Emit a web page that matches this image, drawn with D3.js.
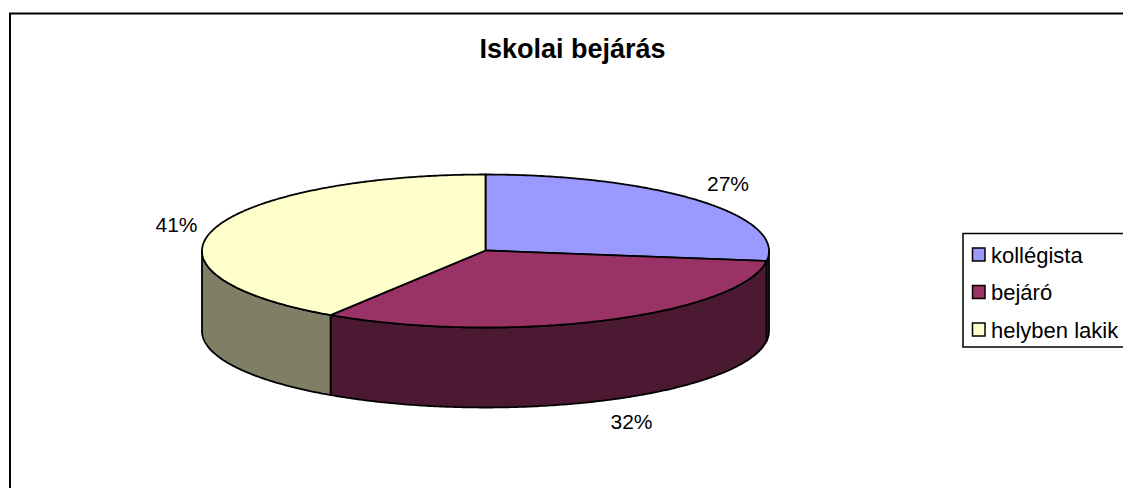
<!DOCTYPE html>
<html><head><meta charset="utf-8">
<script src="https://cdn.jsdelivr.net/npm/d3@7"></script>
<style>html,body{margin:0;padding:0;background:#fff;overflow:hidden}svg{display:block}text{font-family:"Liberation Sans",Arial,sans-serif;fill:#000}</style>
</head><body><svg id="c" width="1123" height="488"></svg>
<script>
const categories = ["kollégista","bejáró","helyben lakik"];
const values = [27.1,32.1,40.8];
const labels = ["27%","32%","41%"];
const topColors = ["#9999FF","#993366","#FFFFCC"];
const sideColors = ["#4C4C7F","#4C1933","#7F7F66"];
const title = "Iskolai bejárás";

const W=1123,H=488, cx=485.5, cy=251, hubY=250.5, rx=283.5, ry=76.5, depth=80;
const svg=d3.select("#c");
svg.append("rect").attr("x",10).attr("y",13.5).attr("width",W+20).attr("height",H+20)
  .attr("fill","#fff").attr("stroke","#000").attr("stroke-width",2);
svg.append("text").attr("x",572.5).attr("y",58).attr("text-anchor","middle")
  .attr("font-weight","bold").attr("font-size",27).text(title);

const arcs=d3.pie().sort(null).value(d=>d)(values);
const px=a=>cx+rx*Math.sin(a), py=a=>cy-ry*Math.cos(a);
const line=d3.line();
const samples=(a0,a1)=>{const n=Math.max(2,Math.ceil((a1-a0)/0.01));return d3.range(n+1).map(i=>a0+(a1-a0)*i/n);};
const applyInk=s=>s.attr("stroke","#000").attr("stroke-width",1.8).attr("stroke-linejoin","round");

// side walls (only the front half of the cylinder shows)
const front0=Math.PI/2, front1=3*Math.PI/2;
arcs.forEach((d,i)=>{
  const a0=Math.max(d.startAngle,front0), a1=Math.min(d.endAngle,front1);
  if(a1<=a0)return;
  const as=samples(a0,a1);
  const upper=as.map(a=>[px(a),py(a)]);
  const lower=as.slice().reverse().map(a=>[px(a),py(a)+depth]);
  applyInk(svg.append("path").attr("d",line(upper.concat(lower))+"Z").attr("fill",sideColors[i]));
});
// top faces
arcs.forEach((d,i)=>{
  const pts=[[cx,hubY]].concat(samples(d.startAngle,d.endAngle).map(a=>[px(a),py(a)]));
  applyInk(svg.append("path").attr("d",line(pts)+"Z").attr("fill",topColors[i]));
});
// data labels
const labelPos=[[728,191],[631.5,429],[176.5,232]];
labels.forEach((t,i)=>svg.append("text").attr("x",labelPos[i][0]).attr("y",labelPos[i][1])
  .attr("text-anchor","middle").attr("font-size",21).text(t));
// legend
svg.append("rect").attr("x",963).attr("y",233.5).attr("width",W).attr("height",113.5)
  .attr("fill","#fff").attr("stroke","#000").attr("stroke-width",1.5);
const ly=d3.scalePoint().domain(categories).range([254.5,329.5]);
categories.forEach((c,i)=>{
  svg.append("rect").attr("x",972.5).attr("y",ly(c)-6.5).attr("width",12.5).attr("height",13)
    .attr("fill",topColors[i]).attr("stroke","#000").attr("stroke-width",1.5);
  svg.append("text").attr("x",991).attr("y",ly(c)+8).attr("font-size",22).text(c);
});
</script></body></html>
